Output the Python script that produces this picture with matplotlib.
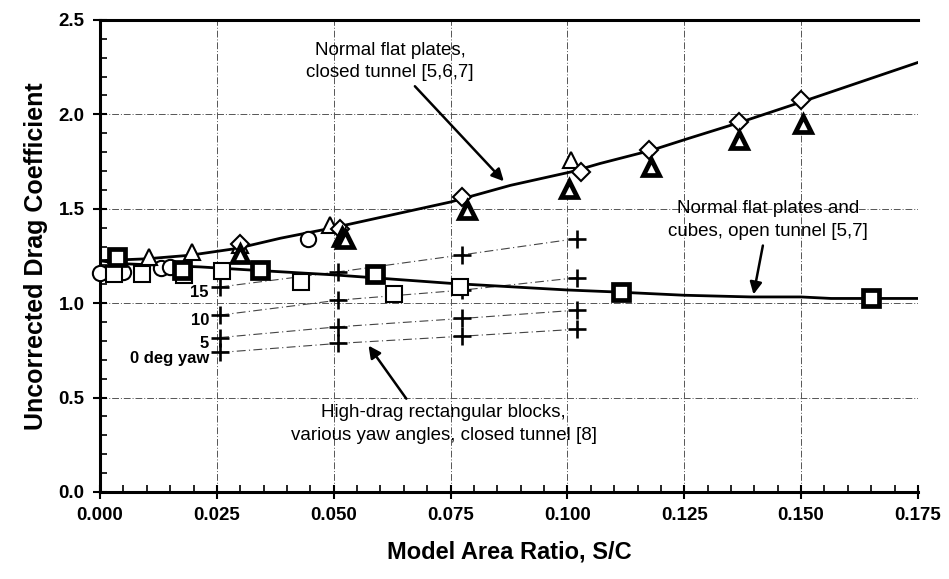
import numpy as np
import matplotlib
matplotlib.use("Agg")
import matplotlib.pyplot as plt
from matplotlib.ticker import MultipleLocator, FormatStrFormatter

plt.rcParams["font.family"] = ["Liberation Sans", "DejaVu Sans"]

# closed tunnel curve (normal flat plates)
closed_x = [0.000, 0.010, 0.0193, 0.0293, 0.0386, 0.050, 0.075, 0.0878, 0.1007,
            0.107, 0.118, 0.1257, 0.1371, 0.150, 0.175]
closed_y = [1.225, 1.235, 1.254, 1.29, 1.344, 1.40, 1.536, 1.624, 1.695,
            1.74, 1.81, 1.871, 1.959, 2.065, 2.275]

# open tunnel curve (flat plates and cubes)
open_x = [0.000, 0.004, 0.0215, 0.0326, 0.0500, 0.075, 0.0999, 0.1097, 0.125,
          0.1393, 0.150, 0.1564, 0.175]
open_y = [1.225, 1.21, 1.192, 1.175, 1.150, 1.105, 1.070, 1.060, 1.042,
          1.033, 1.033, 1.025, 1.025]

# closed tunnel data points
circ_x = [0.000, 0.005, 0.013, 0.015, 0.0445]
circ_y = [1.16, 1.165, 1.185, 1.19, 1.34]
tri_x = [0.0104, 0.0196, 0.030, 0.0491, 0.1007]
tri_y = [1.245, 1.272, 1.307, 1.413, 1.757]
tri_bold_x = [0.030, 0.0518, 0.0525, 0.0785, 0.1003, 0.1178, 0.1367, 0.1503]
tri_bold_y = [1.263, 1.351, 1.342, 1.492, 1.607, 1.721, 1.862, 1.95]
dia_x = [0.030, 0.0514, 0.0775, 0.1028, 0.1175, 0.1367, 0.150]
dia_y = [1.316, 1.395, 1.563, 1.695, 1.81, 1.959, 2.077]

# open tunnel data points
sq_x = [0.003, 0.009, 0.018, 0.026, 0.043, 0.063, 0.077]
sq_y = [1.155, 1.155, 1.148, 1.172, 1.113, 1.051, 1.086]
sq_bold_x = [0.0036, 0.0175, 0.0343, 0.0589, 0.1114, 0.165]
sq_bold_y = [1.245, 1.175, 1.178, 1.157, 1.06, 1.025]

# high-drag rectangular blocks, by yaw angle
yaw_x = [0.0257, 0.051, 0.0775, 0.102]
yaw_labels = ["15", "10", "5", "0 deg yaw"]
yaw_y = {
    "15": [1.086, 1.166, 1.256, 1.342],
    "10": [0.937, 1.016, 1.069, 1.135],
    "5": [0.818, 0.875, 0.919, 0.963],
    "0 deg yaw": [0.739, 0.787, 0.825, 0.862],
}

fig = plt.figure(figsize=(9.49, 5.79), dpi=100)
ax = fig.add_axes([0.1054, 0.1503, 0.8619, 0.8152])

ax.grid(True, which="major", color="#555555", linestyle=(0, (7, 2, 1, 2)),
        linewidth=0.7)
ax.set_axisbelow(True)

for lab in yaw_labels:
    ax.plot(yaw_x, yaw_y[lab], color="#444444", lw=0.8,
            linestyle=(0, (8, 3, 1, 3)), zorder=2)
    ax.plot(yaw_x, yaw_y[lab], "+", color="black", ms=13, mew=1.9, zorder=4)
    ax.text(yaw_x[0] - 0.0024, yaw_y[lab][0] - 0.03, lab, ha="right",
            va="center", fontsize=12, fontweight="bold")

ax.plot(closed_x, closed_y, color="black", lw=2, zorder=3)
ax.plot(open_x, open_y, color="black", lw=2, zorder=3)

mk = dict(linestyle="none", color="black", mfc="white", ms=11, zorder=5,
          clip_on=False)
ax.plot(circ_x, circ_y, "o", mew=1.5, **mk)
ax.plot(sq_x, sq_y, "s", mew=1.5, **mk)
ax.plot(tri_x, tri_y, "^", mew=1.5, **mk)
ax.plot(dia_x, dia_y, "D", mew=1.5, **{**mk, "ms": 9})
ax.plot(tri_bold_x, tri_bold_y, "^", mew=3.4, **mk)
ax.plot(sq_bold_x, sq_bold_y, "s", mew=3.4, **mk)

arrow = dict(arrowstyle="-|>", color="black", lw=1.8, mutation_scale=18)
txt = dict(ha="center", va="center", fontsize=13.5, linespacing=1.45)
ax.annotate("Normal flat plates,\nclosed tunnel [5,6,7]", xy=(0.0868, 1.635),
            xytext=(0.0621, 2.28), **txt,
            arrowprops={**arrow, "relpos": (0.62, 0.0)})
ax.annotate("Normal flat plates and\ncubes, open tunnel [5,7]", xy=(0.1397, 1.032),
            xytext=(0.1429, 1.44), **txt,
            arrowprops={**arrow, "relpos": (0.48, 0.0)})
ax.annotate("High-drag rectangular blocks,\nvarious yaw angles, closed tunnel [8]",
            xy=(0.0571, 0.787), xytext=(0.0735, 0.362), **txt,
            arrowprops={**arrow, "relpos": (0.39, 1.0)})

ax.set_xlim(0, 0.175)
ax.set_ylim(0, 2.5)
ax.xaxis.set_major_locator(MultipleLocator(0.025))
ax.xaxis.set_minor_locator(MultipleLocator(0.005))
ax.yaxis.set_major_locator(MultipleLocator(0.5))
ax.yaxis.set_minor_locator(MultipleLocator(0.1))
ax.xaxis.set_major_formatter(FormatStrFormatter("%.3f"))
ax.yaxis.set_major_formatter(FormatStrFormatter("%.1f"))

ax.tick_params(which="major", direction="inout", length=10, width=1.5,
               labelsize=13.5, pad=6)
ax.tick_params(which="minor", direction="in", length=5, width=1.2)
for t in ax.get_xticklabels() + ax.get_yticklabels():
    t.set_fontweight("bold")

for side in ["left", "bottom", "top"]:
    ax.spines[side].set_linewidth(2.2)
ax.spines["right"].set_visible(False)

ax.set_xlabel("Model Area Ratio, S/C", fontsize=17, fontweight="bold",
              labelpad=12)
ax.set_ylabel("Uncorrected Drag Coefficient", fontsize=18, fontweight="bold",
              labelpad=8)

fig.savefig("out.png", dpi=100)
